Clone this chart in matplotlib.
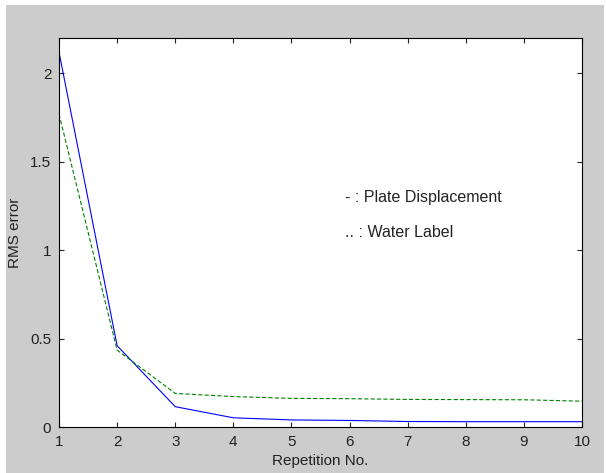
import matplotlib
matplotlib.use("Agg")
import matplotlib.pyplot as plt
from matplotlib.patches import Rectangle

repetition = [1, 2, 3, 4, 5, 6, 7, 8, 9, 10]
plate_displacement = [2.12, 0.46, 0.115, 0.052, 0.040, 0.037, 0.031, 0.030, 0.030, 0.030]
water_label = [1.77, 0.435, 0.19, 0.172, 0.162, 0.160, 0.156, 0.155, 0.154, 0.146]
yticks = [0, 0.5, 1, 1.5, 2]
ytick_labels = ["0", "0.5", "1", "1.5", "2"]

plt.rcParams['font.family'] = ['Liberation Sans', 'DejaVu Sans']
plt.rcParams['lines.scale_dashes'] = False

fig = plt.figure(figsize=(6.06, 4.73), dpi=100, facecolor='white')
fig.patches.append(Rectangle((6/606, 0), (604-6)/606, (473-5)/473,
                             transform=fig.transFigure, facecolor='#cccccc',
                             edgecolor='none', zorder=-10))

ax = fig.add_axes([59/606, (473-427)/473, (582-59)/606, (427-38)/473])
ax.set_facecolor('white')

ax.plot(repetition, plate_displacement, color='#0000ff', lw=0.8, linestyle='-')
ax.plot(repetition, water_label, color='#008000', lw=0.8, linestyle=(0, (3, 1.6)))

ax.set_xlim(1, 10)
ax.set_ylim(0, 2.2)
ax.set_xticks(repetition)
ax.set_xticklabels([str(v) for v in repetition])
ax.set_yticks(yticks)
ax.set_yticklabels(ytick_labels)

ax.tick_params(direction='in', length=3.6, width=0.8, top=True, right=True,
               labelsize=11, colors='#222222', pad=5.5)
for s in ax.spines.values():
    s.set_linewidth(0.8)
    s.set_color('black')

ax.set_xlabel("Repetition No.", fontsize=11, labelpad=4, color='#222222')
ax.set_ylabel("RMS error", fontsize=11, labelpad=6, color='#222222')

ax.text(5.93, 1.3, "- : Plate Displacement", fontsize=11.5, ha='left', va='center',
        color='#222222')
ax.text(5.93, 1.1, ".. : Water Label", fontsize=11.5, ha='left', va='center',
        color='#222222')

fig.savefig("out.png", dpi=100, facecolor=fig.get_facecolor())
